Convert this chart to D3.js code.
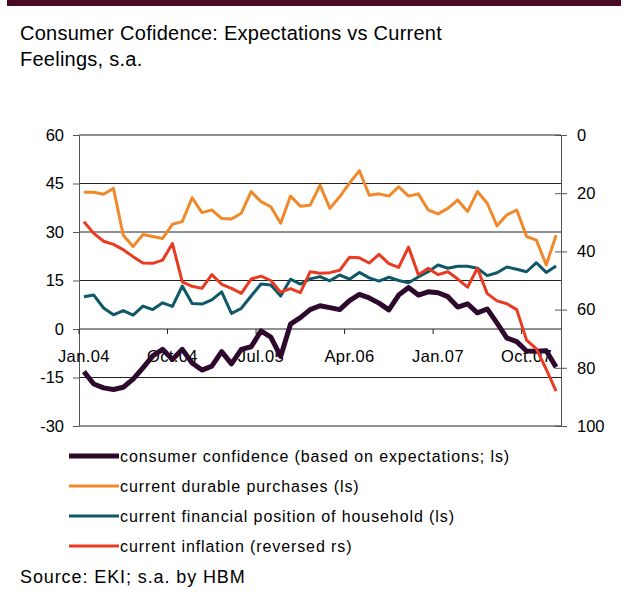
<!DOCTYPE html>
<meta charset="utf-8">
<style>
body { margin: 0; background: #fff; }
text { font-family: "Liberation Sans", Arial, sans-serif; fill: #000; }
.grid line { stroke: #222; stroke-width: 1; }
.axis path, .axis line { stroke: #555; }
</style>
<svg width="630" height="592"></svg>
<script src="https://d3js.org/d3.v7.min.js"></script>
<script>

// monthly, Jan 2004 .. Jan 2008
var months = d3.range(49).map(function(i) { return i; });
var tickMonths = [0, 9, 18, 27, 36, 45];
var tickLabels = ["Jan.04", "Oct.04", "Jul.05", "Apr.06", "Jan.07", "Oct.07"];
var leftTicks = [-30, -15, 0, 15, 30, 45, 60];
var rightTicks = [0, 20, 40, 60, 80, 100];

var confidence = [-13.2, -17, -18.2, -18.7, -18, -15.5, -12, -8.3, -6.3, -9.4,
  -6.3, -10.5, -12.7, -11.5, -7, -10.8, -6.3, -5.5, -0.6, -2.5,
  -8.5, 1.5, 3.5, 6, 7.2, 6.6, 6, 8.8, 10.7, 9.6,
  8, 5.9, 10.5, 12.8, 10.5, 11.5, 11.2, 10, 6.8, 7.8,
  5, 6.2, 1.8, -2.8, -3.9, -6.8, -6.9, -6.7, -11.8];

var durables = [42.3, 42.3, 41.7, 43.5, 29, 25.5, 29.2, 28.6, 28, 32.4,
  33.2, 40.6, 36, 36.8, 34.2, 34, 35.8, 42.5, 39.4, 37.8,
  32.7, 41.1, 38, 38.3, 44.5, 37.3, 40.9, 45.1, 49, 41.4,
  41.8, 41.1, 44, 41.1, 41.8, 36.8, 35.6, 37.3, 39.9, 36.3,
  42.5, 38.9, 31.9, 35.3, 36.8, 28.6, 27.5, 19.8, 29];

var financial = [10, 10.5, 6.5, 4.4, 5.7, 4.3, 7.1, 6, 8.1, 7,
  13.3, 7.9, 7.7, 9, 11.5, 4.8, 6.4, 10.2, 13.9, 13.6,
  10.2, 15.4, 13.9, 15.5, 16.2, 14.9, 16.7, 15.4, 17.5, 15.8,
  14.8, 16, 15, 14.3, 16.1, 17.7, 19.8, 18.8, 19.4, 19.4,
  18.8, 16.5, 17.4, 19.2, 18.5, 17.7, 20.5, 17.5, 19.5];

var inflation = [29.8, 33.8, 36.5, 37.6, 39.4, 41.8, 44, 44.1, 43, 37.3,
  50.5, 52, 52.7, 48, 51.3, 52.7, 54.4, 49.5, 48.5, 50,
  54, 52.8, 54.2, 47, 47.5, 47.3, 46.5, 42, 42.2, 44,
  41, 44.2, 45.5, 38.5, 48, 45.8, 48, 47, 49.5, 52.3,
  45.8, 54.5, 57, 58, 60, 70.5, 73.5, 80.5, 88];

var svg = d3.select("svg");

// top band
svg.append("rect")
    .attr("x", 7).attr("y", 0)
    .attr("width", 614).attr("height", 6)
    .attr("fill", "#4a0a24");

svg.append("text")
    .attr("x", 20).attr("y", 40)
    .style("font-size", "20px")
    .style("letter-spacing", "0.25px")
    .text("Consumer Cofidence: Expectations vs Current");
svg.append("text")
    .attr("x", 20).attr("y", 66)
    .style("font-size", "20px")
    .style("letter-spacing", "0.25px")
    .text("Feelings, s.a.");

var plotLeft = 79, plotRight = 561, plotTop = 135, plotBottom = 426;

var x = d3.scaleBand().domain(months).range([plotLeft, plotRight]);
var xc = function(i) { return x(i) + x.bandwidth() / 2; };
var yL = d3.scaleLinear().domain([-30, 60]).range([plotBottom, plotTop]);
var yR = d3.scaleLinear().domain([0, 100]).range([plotTop, plotBottom]);
var plain = function(d) { return String(d); };

// gridlines
svg.append("g").attr("class", "grid")
  .selectAll("line")
  .data(leftTicks)
  .enter().append("line")
    .attr("x1", plotLeft).attr("x2", plotRight)
    .attr("y1", function(d) { return yL(d); })
    .attr("y2", function(d) { return yL(d); });

// left axis
var gl = svg.append("g")
    .attr("class", "axis")
    .attr("transform", "translate(" + plotLeft + ",0)")
    .call(d3.axisLeft(yL).tickValues(leftTicks).tickFormat(plain)
      .tickSize(6).tickPadding(9).tickSizeOuter(0));
gl.selectAll("text").style("font-size", "16.5px").attr("fill", "#000");

// right axis
var gr = svg.append("g")
    .attr("class", "axis")
    .attr("transform", "translate(" + plotRight + ",0)")
    .call(d3.axisRight(yR).tickValues(rightTicks).tickFormat(plain)
      .tickSize(6).tickPadding(10).tickSizeOuter(0));
gr.selectAll(".tick line").attr("x1", -6);
gr.selectAll("text").style("font-size", "16.5px").attr("fill", "#000");

// category axis at zero
var gx = svg.append("g")
    .attr("transform", "translate(0," + yL(0) + ")");
gx.selectAll("line")
  .data(tickMonths)
  .enter().append("line")
    .attr("x1", function(d) { return x(d); })
    .attr("x2", function(d) { return x(d); })
    .attr("y1", 0).attr("y2", 5)
    .attr("stroke", "#222");
gx.selectAll("text")
  .data(tickMonths)
  .enter().append("text")
    .attr("x", function(d) { return xc(d); })
    .attr("y", 33)
    .attr("text-anchor", "middle")
    .style("font-size", "16.5px")
    .style("letter-spacing", "0.4px")
    .text(function(d, i) { return tickLabels[i]; });

var series = [
  {name: "consumer confidence (based on expectations; ls)", values: confidence, scale: yL, color: "#2d0a2d", width: 5},
  {name: "current durable purchases (ls)", values: durables, scale: yL, color: "#f0892a", width: 3},
  {name: "current financial position of household (ls)", values: financial, scale: yL, color: "#0f5868", width: 3},
  {name: "current inflation (reversed rs)", values: inflation, scale: yR, color: "#ea3a22", width: 3}
];

series.forEach(function(s) {
  var line = d3.line()
      .x(function(d, i) { return xc(i); })
      .y(function(d) { return s.scale(d); });
  svg.append("path")
      .datum(s.values)
      .attr("fill", "none")
      .attr("stroke", s.color)
      .attr("stroke-width", s.width)
      .attr("stroke-linejoin", "round")
      .attr("d", line);
});

// legend
var lg = svg.append("g").selectAll("g")
  .data(series)
  .enter().append("g")
    .attr("transform", function(d, i) { return "translate(69," + (456 + i * 30) + ")"; });
lg.append("line")
    .attr("x1", 0).attr("x2", 50)
    .attr("stroke", function(d) { return d.color; })
    .attr("stroke-width", function(d) { return d.width; });
lg.append("text")
    .attr("x", 51).attr("dy", "0.35em")
    .style("font-size", "16px")
    .style("letter-spacing", "0.9px")
    .text(function(d) { return d.name; });

svg.append("text")
    .attr("x", 20).attr("y", 583)
    .style("font-size", "18px")
    .style("letter-spacing", "0.9px")
    .text("Source: EKI; s.a. by HBM");

</script>
